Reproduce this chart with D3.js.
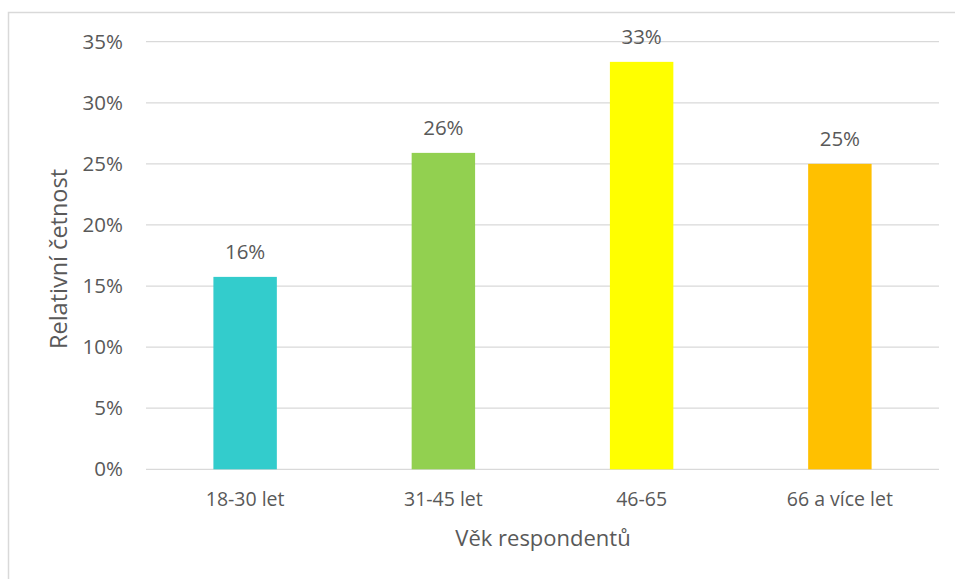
<!DOCTYPE html>
<html>
<head>
<meta charset="utf-8">
<script src="https://cdn.jsdelivr.net/npm/d3@7"></script>
<style>
  html, body { margin: 0; padding: 0; background: #fff; }
  svg { display: block; }
  text { font-family: "Open Sans", "Noto Sans", sans-serif; fill: #595959; }
</style>
</head>
<body>
<svg id="chart" width="955" height="579"></svg>
<script>
const categories = ["18-30 let", "31-45 let", "46-65", "66 a více let"];
const values = [0.1575, 0.259, 0.3335, 0.250];
const barLabels = ["16%", "26%", "33%", "25%"];
const colors = ["#33CCCC", "#92D050", "#FFFF00", "#FFC000"];
const yTicks = [0, 0.05, 0.10, 0.15, 0.20, 0.25, 0.30, 0.35];
const yTitle = "Relativní četnost";
const xTitle = "Věk respondentů";

const svg = d3.select("#chart");
const plot = { left: 146, right: 939, top: 41.7, bottom: 469.3 };

// outer chart border
svg.append("rect")
  .attr("x", 8.5).attr("y", 12.5)
  .attr("width", 1000).attr("height", 1000)
  .attr("fill", "none").attr("stroke", "#d9d9d9").attr("stroke-width", 1.5);

const x = d3.scaleBand().domain(categories).range([plot.left, plot.right]).paddingInner(0.68).paddingOuter(0.34);
const y = d3.scaleLinear().domain([0, 0.35]).range([plot.bottom, plot.top]);

// gridlines
svg.append("g").selectAll("line").data(yTicks).join("line")
  .attr("x1", plot.left).attr("x2", plot.right)
  .attr("y1", d => y(d)).attr("y2", d => y(d))
  .attr("stroke", "#d9d9d9").attr("stroke-width", 1.3);

// y tick labels
const yAxis = d3.axisLeft(y).tickValues(yTicks).tickFormat(d3.format(".0%")).tickSize(0).tickPadding(0);
const gy = svg.append("g").attr("transform", `translate(123,0)`).call(yAxis);
gy.select(".domain").remove();
gy.attr("font-size", null).attr("font-family", null);
gy.selectAll("text").attr("font-size", 20.5).attr("fill", "#595959");

// bars
svg.append("g").selectAll("rect").data(categories).join("rect")
  .attr("x", d => x(d)).attr("width", x.bandwidth())
  .attr("y", (d, i) => y(values[i]))
  .attr("height", (d, i) => y(0) - y(values[i]))
  .attr("fill", (d, i) => colors[i]);

// bar value labels
svg.append("g").selectAll("text").data(categories).join("text")
  .attr("x", d => x(d) + x.bandwidth() / 2)
  .attr("y", (d, i) => y(values[i]) - 18)
  .attr("text-anchor", "middle").attr("font-size", 20.5).attr("fill", "#404040")
  .text((d, i) => barLabels[i]);

// x axis labels
const xAxis = d3.axisBottom(x).tickSize(0).tickPadding(0);
const gx = svg.append("g").attr("transform", `translate(0,${plot.bottom})`).call(xAxis);
gx.select(".domain").remove();
gx.attr("font-size", null).attr("font-family", null);
gx.selectAll("text").attr("font-size", 19.5).attr("fill", "#595959")
  .attr("dy", null).attr("y", 37);

// axis titles
svg.append("text")
  .attr("transform", `translate(67,259) rotate(-90)`)
  .attr("text-anchor", "middle").attr("font-size", 23.5)
  .text(yTitle);

svg.append("text")
  .attr("x", 543).attr("y", 546)
  .attr("text-anchor", "middle").attr("font-size", 22)
  .text(xTitle);
</script>
</body>
</html>
